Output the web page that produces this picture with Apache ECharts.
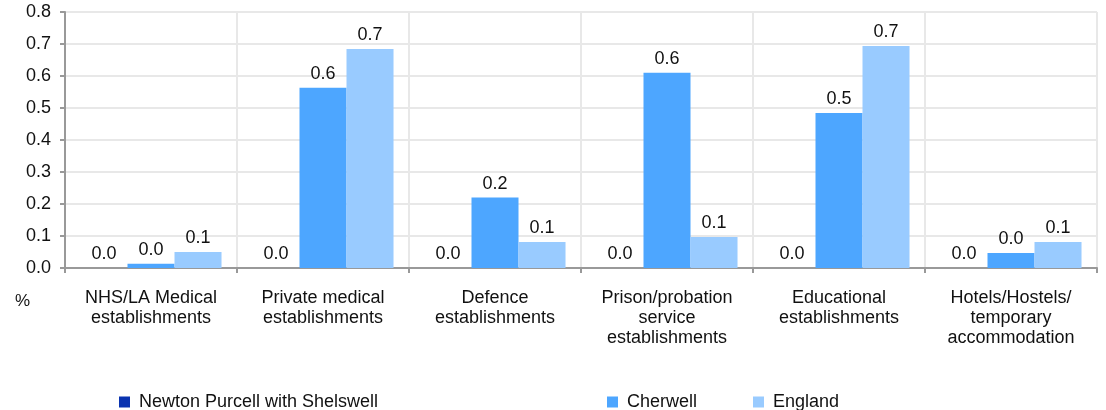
<!DOCTYPE html>
<html>
<head>
<meta charset="utf-8">
<script src="https://cdn.jsdelivr.net/npm/echarts@6/dist/echarts.min.js"></script>
<style>
    html, body { margin: 0; padding: 0; background: #fff; }
    #chart { width: 1106px; height: 410px; }
</style>
</head>
<body>
<div id="chart"></div>
<script>
var categories = [
    'NHS/LA Medical\nestablishments',
    'Private medical\nestablishments',
    'Defence\nestablishments',
    'Prison/probation\nservice\nestablishments',
    'Educational\nestablishments',
    'Hotels/Hostels/\ntemporary\naccommodation'
];
var newtonValues = [0, 0, 0, 0, 0, 0];
var cherwellValues = [0.013, 0.563, 0.22, 0.61, 0.484, 0.047];
var englandValues = [0.05, 0.684, 0.081, 0.097, 0.694, 0.081];
var yTicks = [0, 0.1, 0.2, 0.3, 0.4, 0.5, 0.6, 0.7, 0.8];

var fontFam = 'Liberation Sans, Arial, sans-serif';
var chart = echarts.init(document.getElementById('chart'));

// 柱子上的数值标签
function barLabel() {
    return {
        show: true,
        position: 'top',
        distance: 5,
        color: '#111',
        fontSize: 18,
        fontFamily: fontFam,
        formatter: function (p) { return p.value.toFixed(1); }
    };
}

function legendAt(left, name) {
    return {
        left: left,
        top: 393,
        padding: 0,
        data: [name],
        icon: 'rect',
        itemWidth: 11,
        itemHeight: 11,
        textStyle: { fontSize: 18, fontFamily: fontFam, color: '#111', padding: [0, 0, 0, 4] }
    };
}

var option = {
    animation: false,
    grid: { left: 65, right: 9, top: 12, bottom: 142, containLabel: false },
    legend: [
        legendAt(119, 'Newton Purcell with Shelswell'),
        legendAt(607, 'Cherwell'),
        legendAt(753, 'England')
    ],
    graphic: [{
        type: 'text',
        left: 15,
        top: 293,
        style: { text: '%', fontSize: 17, fontFamily: fontFam, fill: '#111' }
    }],
    xAxis: {
        type: 'category',
        data: categories,
        axisLine: { lineStyle: { color: '#999', width: 2 } },
        axisTick: { show: true, length: 5, lineStyle: { color: '#999', width: 2 } },
        splitLine: { show: true, lineStyle: { color: '#e8e8e8', width: 2 } },
        axisLabel: {
            interval: 0,
            margin: 20,
            fontSize: 18,
            lineHeight: 20,
            color: '#111',
            fontFamily: fontFam
        }
    },
    yAxis: {
        type: 'value',
        min: yTicks[0],
        max: yTicks[yTicks.length - 1],
        interval: 0.1,
        axisLine: { show: true, lineStyle: { color: '#999', width: 2 } },
        axisTick: { show: true, length: 5, lineStyle: { color: '#999', width: 2 } },
        splitLine: { lineStyle: { color: '#e8e8e8', width: 2 } },
        axisLabel: {
            margin: 14,
            fontSize: 18,
            color: '#111',
            fontFamily: fontFam,
            formatter: function (v) { return v.toFixed(1); }
        }
    },
    series: [{
        name: 'Newton Purcell with Shelswell',
        type: 'bar',
        data: newtonValues,
        barGap: '0%',
        barCategoryGap: '18%',
        itemStyle: { color: '#0a33b0' },
        label: barLabel()
    }, {
        name: 'Cherwell',
        type: 'bar',
        data: cherwellValues,
        barGap: '0%',
        barCategoryGap: '18%',
        itemStyle: { color: '#4da6ff' },
        label: barLabel()
    }, {
        name: 'England',
        type: 'bar',
        data: englandValues,
        barGap: '0%',
        barCategoryGap: '18%',
        itemStyle: { color: '#99cbff' },
        label: barLabel()
    }]
};
chart.setOption(option);
</script>
</body>
</html>
